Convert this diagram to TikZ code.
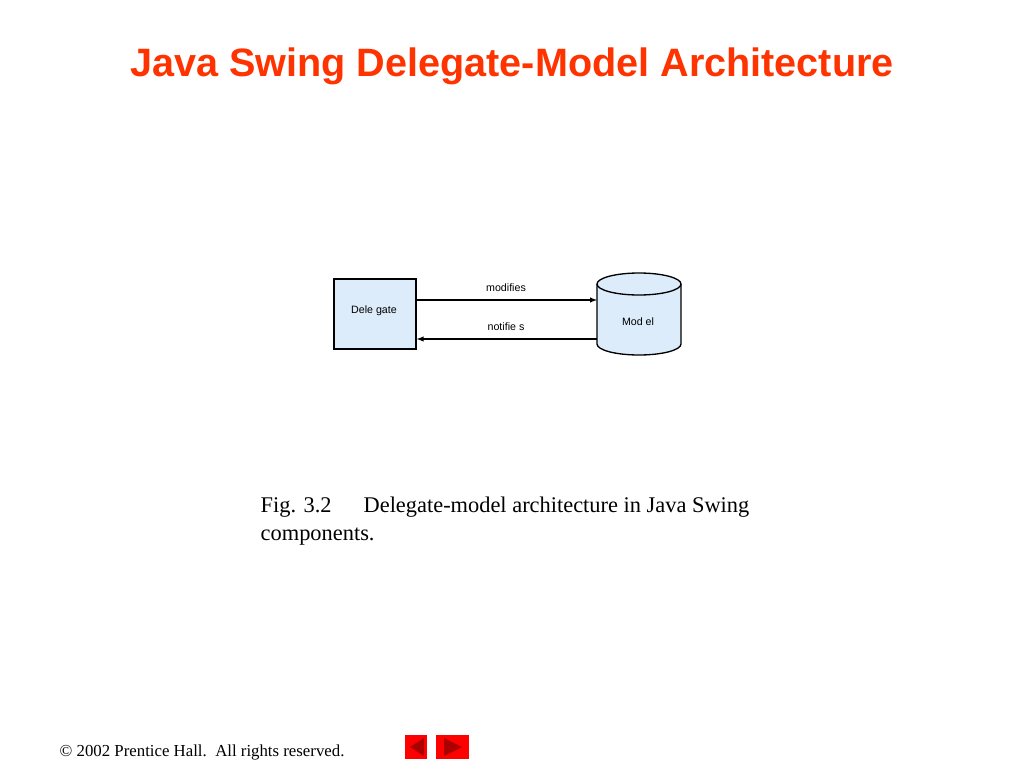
\documentclass[tikz,border=0pt]{standalone}
\usepackage{fontspec}
\setmainfont{Liberation Serif}
\newfontfamily\arial{Liberation Sans}
\definecolor{titlered}{RGB}{255,51,0}
\definecolor{boxblue}{RGB}{220,236,250}
\definecolor{btnred}{RGB}{255,0,0}
\definecolor{btndark}{RGB}{170,0,0}
\begin{document}
\begin{tikzpicture}[x=0.75pt,y=-0.75pt,
  lbl/.style={font=\arial\fontsize{8}{9}\selectfont},
  conn/.style={draw=black,line width=0.8pt,-latex}]
\useasboundingbox (0,0) rectangle (1024,768);
\node[font=\arial\bfseries\fontsize{29.7}{31}\selectfont,text=titlered] (title) at (512,66) {Java Swing Delegate-Model Architecture};
\node[draw=black,line width=1pt,fill=boxblue,minimum width=61.5pt,minimum height=52.5pt,inner sep=0pt] (del) at (375,314) {};
\node[lbl] at (374,311) {Dele gate};
% cylinder
\fill[boxblue,draw=black,line width=1pt] (597,284) -- (597,344) arc[start angle=180,end angle=0,x radius=42,y radius=11] -- (681,284) arc[start angle=0,end angle=-180,x radius=42,y radius=11];
\draw[line width=1pt] (597,284) arc[start angle=180,end angle=0,x radius=42,y radius=11];
\coordinate (mtop) at (597,300);
\coordinate (mbot) at (597,339);
\node[lbl] (model) at (638,322) {Mod el};
\draw[conn] (del.east |- mtop) -- (mtop);
\draw[conn] (mbot) -- (del.east |- mbot);
\node[lbl] (mod) at (506,288) {modifies};
\node[lbl] (not) at (506,327) {notifie s};
\node[anchor=west,font=\fontsize{16.8}{21}\selectfont,align=left] (cap) at (256,521) {Fig. 3.2\hspace{24pt}Delegate-model architecture in Java Swing\\components.};
\node[anchor=west,font=\fontsize{12.6}{14}\selectfont] (foot) at (55,752) {\textcopyright\ 2002 Prentice Hall.\ \ All rights reserved.};
\fill[btnred] (405,735) rectangle (427,759);
\fill[btndark] (410,747) -- (424,738) -- (424,756) -- cycle;
\fill[btnred] (436,735) rectangle (469,759);
\fill[btndark] (462,747) -- (444,738) -- (444,756) -- cycle;
\end{tikzpicture}
\end{document}
